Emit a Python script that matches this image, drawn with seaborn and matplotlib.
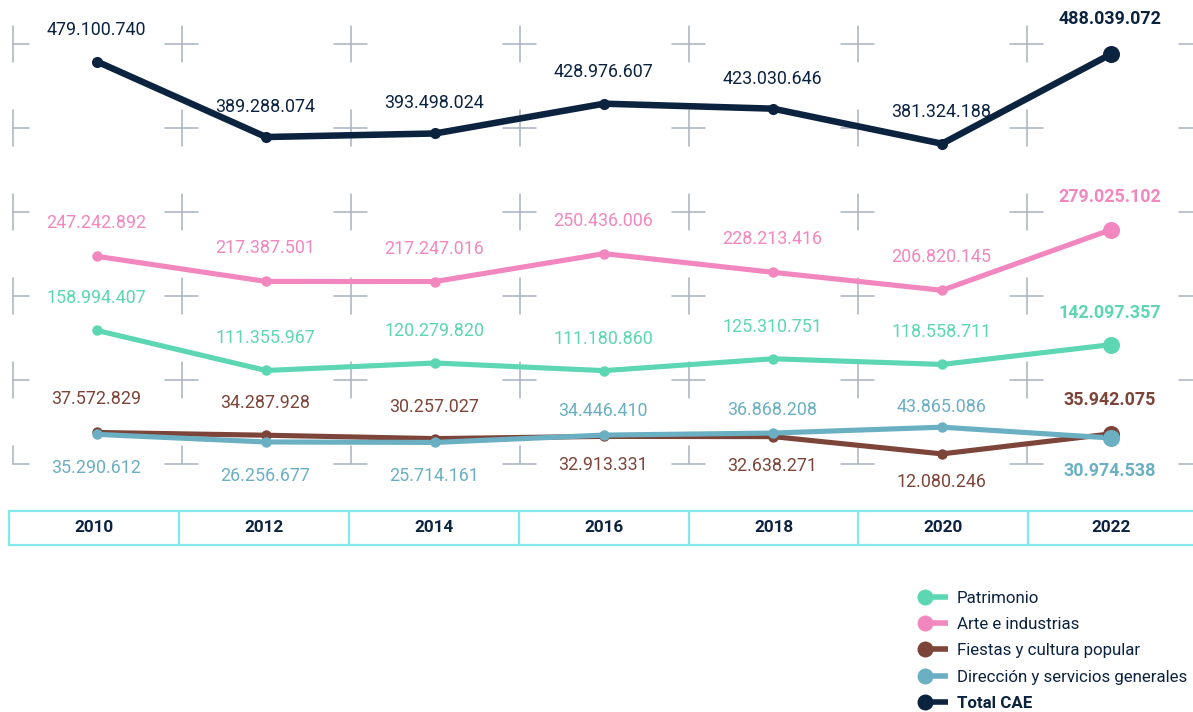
import numpy as np
import pandas as pd
import matplotlib
matplotlib.use("Agg")
import matplotlib.pyplot as plt
import seaborn as sns
from matplotlib.lines import Line2D
from matplotlib.legend_handler import HandlerBase

# Data (euros)
years = ["2010", "2012", "2014", "2016", "2018", "2020", "2022"]
patrimonio = [158994407, 111355967, 120279820, 111180860, 125310751, 118558711, 142097357]
arte = [247242892, 217387501, 217247016, 250436006, 228213416, 206820145, 279025102]
fiestas = [37572829, 34287928, 30257027, 32913331, 32638271, 12080246, 35942075]
direccion = [35290612, 26256677, 25714161, 34446410, 36868208, 43865086, 30974538]
total = [479100740, 389288074, 393498024, 428976607, 423030646, 381324188, 488039072]

series_names = ["Patrimonio", "Arte e industrias", "Fiestas y cultura popular",
                "Dirección y servicios generales", "Total CAE"]
series_values = [patrimonio, arte, fiestas, direccion, total]
colors = ["#5DD6B3", "#F287BF", "#7D4539", "#6BAFC3", "#0C2340"]
# label offset in pixels (positive above, negative below), per point
label_off = [
    [32] * 7,
    [33] * 7,
    [33, 32, 32, -29, -29, -28, 34],
    [-34, -34, -34, 24, 23, 20, -33],
    [32, 30, 30, 32, 30, 32, 35],
]

df = pd.DataFrame({
    "x": np.tile(np.arange(len(years)), len(series_names)),
    "value": np.concatenate(series_values),
    "serie": np.repeat(series_names, len(years)),
})

sns.set_theme(style="white")
plt.rcParams["font.family"] = ["Roboto", "DejaVu Sans"]

fig = plt.figure(figsize=(11.93, 7.12), dpi=100)
ax = fig.add_axes([0, 0, 1, 1])
ax.set_xlim(-0.574, 6.485)
ax.set_ylim(-295.2e6, 552.4e6)
ax.axis("off")

# background crosses
grid_color = "#A9B2C0"
hx = 0.10
hy = 21.4e6
for gy in np.arange(0, 500e6 + 1, 100e6):
    for k in range(len(years) + 1):
        gx = k - 0.5
        x0 = gx if k == 0 else gx - hx
        ax.plot([x0, gx + hx], [gy, gy], color=grid_color, lw=1.1, zorder=1)
        ax.plot([gx, gx], [gy - hy if gy > 0 else gy, gy + hy], color=grid_color, lw=1.1, zorder=1)

# lines
for name, col in zip(series_names, colors):
    sub = df[df["serie"] == name]
    lw = 4.7 if name == "Total CAE" else 3.7
    sns.lineplot(data=sub, x="x", y="value", color=col, lw=lw, marker="o",
                 markersize=8 if name == "Total CAE" else 7.5, markeredgewidth=0,
                 ax=ax, zorder=3, legend=False)
    last = sub.iloc[[-1]]
    ax.scatter(last["x"], last["value"], s=150, color=col, zorder=4, linewidths=0)

# value labels
def fmt(v):
    return f"{v:,}".replace(",", ".")

for vals, col, offs in zip(series_values, colors, label_off):
    for i, v in enumerate(vals):
        last = i == len(vals) - 1
        ax.annotate(fmt(v), (i, v), xytext=(-1, offs[i]), textcoords="offset pixels",
                    ha="center", va="center", fontsize=12.9, color=col,
                    fontweight="bold" if last else "normal", zorder=5)

# year table
table_color = "#80E8EE"
ytop, ybot = -55.9e6, -96.4e6
step = 1.005
left = -0.52
right = 6.485
ax.plot([left, right], [ytop, ytop], color=table_color, lw=1.6, zorder=2)
ax.plot([left, right], [ybot, ybot], color=table_color, lw=1.6, zorder=2)
for k in range(len(years)):
    bx = left + k * step
    ax.plot([bx, bx], [ytop, ybot], color=table_color, lw=1.6, zorder=2)
for i, yr in enumerate(years):
    cx = left + (i + 0.5) * step if i < len(years) - 1 else (left + i * step + right) / 2
    ax.text(cx, (ytop + ybot) / 2, yr, ha="center", va="center",
            fontsize=12.3, fontweight="bold", color="#0C2340")


# legend: dot on the left with a short thick line
class LeftDot(HandlerBase):
    def create_artists(self, legend, orig, xdescent, ydescent, width, height, fontsize, trans):
        y = height / 2 - ydescent
        x0 = -xdescent
        line = Line2D([x0, x0 + width], [y, y], color=orig.get_color(),
                      lw=orig.get_linewidth(), solid_capstyle="butt")
        dot = Line2D([x0], [y], marker="o", ms=orig.get_markersize(), color=orig.get_color(),
                     markeredgewidth=0, linestyle="none")
        line.set_transform(trans)
        dot.set_transform(trans)
        return [line, dot]


handles = [Line2D([], [], color=c, lw=4.0, marker="o", markersize=11.5) for c in colors]
leg = fig.legend(handles, series_names, loc="upper left", bbox_to_anchor=(0.775, 0.170),
                 frameon=False, fontsize=12.2, handlelength=1.36,
                 handletextpad=0.53, labelspacing=0.66, borderaxespad=0, borderpad=0,
                 handler_map={Line2D: LeftDot()})
for t in leg.get_texts():
    t.set_color("#0C2340")
leg.get_texts()[-1].set_fontweight("bold")

fig.savefig("out.png", dpi=100)
